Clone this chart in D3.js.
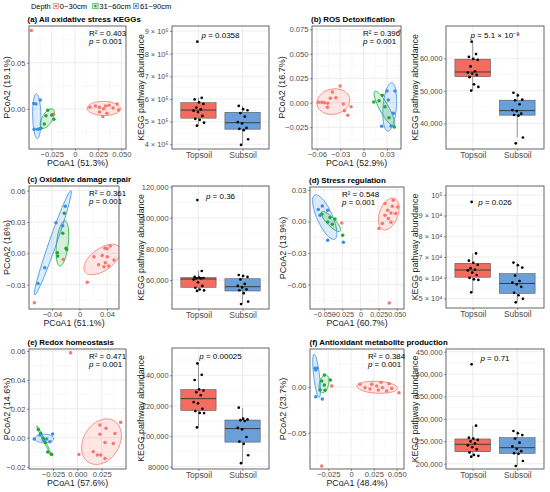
<!DOCTYPE html>
<html>
<head>
<meta charset="utf-8">
<script src="https://cdn.jsdelivr.net/npm/d3@7"></script>
<style>
  body { margin: 0; background: #fff; }
</style>
</head>
<body>
<script>
// ---- data ----
const depths = ["0~30cm", "31~60cm", "61~90cm"];
const soilGroups = ["Topsoil", "Subsoil"];
const titles = ["(a) All oxidative stress KEGGs", "(b) ROS Detoxification", "(c) Oxidative damage repair",
                "(d) Stress regulation", "(e) Redox homeostasis", "(f) Antioxidant metabolite production"];
const r2Values = ["0.403", "0.396", "0.361", "0.548", "0.471", "0.384"];
const permanovaP = ["0.001", "0.001", "0.001", "0.001", "0.001", "0.001"];
const wilcoxP = ["0.0358", "5.1 × 10⁻⁸", "0.36", "0.026", "0.00025", "0.71"];
const pcoa1Pct = ["51.3%", "52.9%", "51.1%", "60.7%", "57.6%", "48.4%"];
const pcoa2Pct = ["19.1%", "16.7%", "16%", "13.9%", "14.6%", "23.7%"];

// PCoA scores per depth
const pcoa_a_0_30 = [[-0.047,0.085],[0.0162,0.0018],[0.022,0.0033],[0.0264,0.0018],[0.0308,0.0003],[0.033,0.0033],[0.0367,0.004],[0.041,0.001],[0.0455,0.0054],[0.047,-0.0011],[0.0344,-0.0047],[0.030,-0.0083],[0.0264,-0.0033],[-0.0231,-0.0058]];
const pcoa_a_31_60 = [[-0.0293,-0.0014],[-0.0312,-0.0073],[-0.0227,-0.0112],[-0.033,-0.0163],[-0.0367,-0.021],[-0.025,-0.0065]];
const pcoa_a_61_90 = [[-0.0444,0.0058],[-0.0374,0.0098],[-0.0403,-0.0221],[-0.044,-0.022],[-0.0377,-0.0214],[-0.042,0.0054]];

const pcoa_b_0_30 = [[-0.0301,0.0171],[-0.04,0.0109],[-0.0536,0.0004],[-0.0503,0],[-0.0459,-0.0006],[-0.0426,0.0045],[-0.0356,0.0051],[-0.0464,-0.0047],[-0.0259,-0.0013],[-0.0246,-0.0082],[-0.016,-0.0041],[-0.0203,-0.0129],[-0.058,0.0004],[0.047,0.0733]];
const pcoa_b_31_60 = [[0.0131,0.0007],[0.0241,0.0076],[0.0276,-0.0041],[0.0327,-0.0153],[0.0395,-0.0248],[0.0199,0.002]];
const pcoa_b_61_90 = [[0.0301,0.012],[0.0404,0.012],[0.0233,-0.0241],[0.0353,-0.0238],[0.0382,-0.0108],[0.0318,0.0028]];

const pcoa_c_0_30 = [[-0.0657,-0.0473],[0.0113,-0.0278],[0.0211,-0.0033],[0.0371,0.0048],[0.0404,0.0044],[0.0448,0.007],[0.0279,-0.0109],[0.0356,-0.0128],[0.0375,-0.009],[0.0425,-0.0122],[0.0502,-0.0064],[0.0404,-0.0033],[0.033,-0.002],[-0.0236,-0.0058]];
const pcoa_c_31_60 = [[-0.0221,0.0383],[-0.0244,0.0192],[-0.0196,0.0048],[-0.0323,0.0006],[-0.0317,-0.0026],[-0.0186,0.0038]];
const pcoa_c_61_90 = [[-0.0206,0.045],[-0.0342,0.0294],[-0.0244,0.0265],[-0.0506,-0.0138],[-0.0604,-0.0288]];

const pcoa_d_0_30 = [[0.0396,-0.0773],[-0.0258,-0.0013],[0.0451,0.0202],[0.0337,0.0171],[0.0437,0.0145],[0.0511,0.0139],[0.0374,0.0107],[0.0419,0.0082],[0.0337,0.006],[0.0484,0.0076],[0.0382,0.0028],[0.0419,-0.0007],[0.03,-0.0019],[0.0254,-0.0066]];
const pcoa_d_31_60 = [[-0.0533,0.0069],[-0.0419,0.0038],[-0.035,0.0025],[-0.045,-0.0004],[-0.0387,-0.0026],[-0.0245,-0.013]];
const pcoa_d_61_90 = [[-0.058,0.0114],[-0.0525,0.0148],[-0.045,0.0107],[-0.045,-0.0178],[-0.0236,-0.0197],[-0.0556,0.006]];

const pcoa_e_0_30 = [[-0.0069,0.0588],[-0.0273,-0.0108],[0.0231,0.0088],[0.0293,0.0065],[0.0443,0.0107],[0.0231,0.0024],[0.0385,0.003],[0.0283,-0.0032],[0.0368,-0.0039],[0.0163,-0.0097],[0.0204,-0.012],[0.0239,-0.012],[0.0283,-0.0143],[0.0016,-0.0115]];
const pcoa_e_31_60 = [[-0.04,0.0058],[-0.0376,0.003],[-0.0349,-0.0004],[-0.0329,-0.0032],[-0.0304,-0.0099],[-0.0263,-0.0115]];
const pcoa_e_61_90 = [[-0.0441,-0.0009],[-0.0383,0.0019],[-0.0253,0.0026],[-0.0314,-0.0009],[-0.0281,-0.0028],[-0.0349,-0.0016]];

const pcoa_f_0_30 = [[-0.0321,-0.0864],[-0.0211,0.0011],[0.0098,0.003],[0.0153,-0.0007],[0.0208,-0.0022],[0.0226,0.003],[0.0281,0.0011],[0.0328,0.0051],[0.0343,-0.0007],[0.039,-0.0044],[0.0416,0.0036],[0.0445,-0.0015],[0.0525,-0.0062],[0.0299,-0.0033]];
const pcoa_f_31_60 = [[-0.0292,0.0131],[-0.0321,0.0066],[-0.0226,0.0077],[-0.0292,0.0022],[-0.0284,-0.0036],[-0.0339,-0.0033]];
const pcoa_f_61_90 = [[-0.0394,0.0205],[-0.0375,0.0205],[-0.0386,-0.0106],[-0.0314,-0.0131],[-0.0386,0.0186]];

// KEGG pathway abundance per sample
const kegg_a_top = [482000,495000,508000,512000,525000,542000,548000,554000,562000,578000,585000,598000,605000,853000];
const kegg_a_sub = [397000,422000,462000,468000,472000,492000,498000,522000,538000,550000,555000,569000];
const kegg_b_top = [50100,51200,52000,54200,54900,55300,55600,56000,57500,59500,59800,60400,61300,65100];
const kegg_b_sub = [33900,35700,42400,42600,43000,43800,44100,45900,47100,47300,48600,49400];
const kegg_c_top = [53000,53300,53900,55000,56200,58500,60300,61000,61100,61300,61600,62000,65800,111400];
const kegg_c_sub = [44500,46100,51500,53400,54000,55200,56200,57500,60400,62000,62600,63200];
const kegg_d_top = [52900,58900,59200,59900,61300,62400,63500,63900,64600,66200,67200,68200,71700,96600];
const kegg_d_sub = [48100,49800,51500,52700,55600,56800,57600,58400,61000,64900,66000,67300];
const kegg_e_top = [105800,115200,115300,116500,118000,121600,122400,126900,128900,130000,130800,136900,140300,147800];
const kegg_e_sub = [82300,87500,95000,96500,99500,104500,105500,110000,110500,111000,111500,118700];
const kegg_f_top = [215600,217500,219500,225000,232000,237000,241000,245600,250000,253000,256000,258000,284800,421900];
const kegg_f_sub = [194900,206000,222000,223500,228000,233000,238500,247000,256000,264000,268000,273000];

// tick values and labels
const pcoaXTicks = [[-0.025,0,0.025,0.05],[-0.06,-0.03,0,0.03],[-0.04,0,0.04],[-0.05,-0.025,0,0.025,0.05],[-0.025,0,0.025],[-0.025,0,0.025,0.05]];
const pcoaXLabels = [["−0.025","0","0.025","0.050"],["−0.06","−0.03","0","0.03"],["−0.04","0","0.04"],["−0.050","−0.025","0","0.025","0.050"],["−0.025","0.000","0.025"],["−0.025","0","0.025","0.050"]];
const pcoaYTicks = [[0,0.05],[-0.025,0,0.025,0.05,0.075],[-0.03,0,0.03,0.06],[-0.06,-0.03,0,0.03],[-0.02,0,0.02,0.04,0.06],[-0.05,0]];
const pcoaYLabels = [["0.00","0.05"],["−0.025","0.000","0.025","0.050","0.075"],["−0.03","0.00","0.03","0.06"],["−0.06","−0.03","0.00","0.03"],["−0.02","0.00","0.02","0.04","0.06"],["−0.05","0.00"]];
const keggYTicks = [[4e5,5e5,6e5,7e5,8e5,9e5],[40000,50000,60000],[60000,80000,100000,120000],[50000,60000,70000,80000,90000,100000],[80000,100000,120000,140000],[200000,250000,300000,350000,400000,450000]];
const keggYLabels = [["4 × 10⁵","5 × 10⁵","6 × 10⁵","7 × 10⁵","8 × 10⁵","9 × 10⁵"],["40,000","50,000","60,000"],["60,000","80,000","100,000","120,000"],["5 × 10⁴","6 × 10⁴","7 × 10⁴","8 × 10⁴","9 × 10⁴","10⁵"],["80000","100,000","120,000","140,000"],["200,000","250,000","300,000","350,000","400,000","450,000"]];

const pcoaGroups = [
  [pcoa_a_0_30, pcoa_a_31_60, pcoa_a_61_90],
  [pcoa_b_0_30, pcoa_b_31_60, pcoa_b_61_90],
  [pcoa_c_0_30, pcoa_c_31_60, pcoa_c_61_90],
  [pcoa_d_0_30, pcoa_d_31_60, pcoa_d_61_90],
  [pcoa_e_0_30, pcoa_e_31_60, pcoa_e_61_90],
  [pcoa_f_0_30, pcoa_f_31_60, pcoa_f_61_90]
];
const keggGroups = [
  [kegg_a_top, kegg_a_sub], [kegg_b_top, kegg_b_sub], [kegg_c_top, kegg_c_sub],
  [kegg_d_top, kegg_d_sub], [kegg_e_top, kegg_e_sub], [kegg_f_top, kegg_f_sub]
];

// ---- layout (pixels) ----
const layout = [
  {pcX:[29,126], pcY:[26,149], pcXd:[-0.0495,0.055], pcYd:[-0.0435,0.090], bxX:[172,269], bxY:[26,149], bxYd:[379000,922000], r2X:89, pDy:12, ytX:7, titleX:27.5},
  {pcX:[312,401], pcY:[26,149], pcXd:[-0.0662,0.0481], pcYd:[-0.0473,0.0784], bxX:[446,544], bxY:[26,149], bxYd:[32170,69900], r2X:363, pDy:12, ytX:282, titleX:311},
  {pcX:[29,119], pcY:[186,309], pcXd:[-0.0735,0.0575], pcYd:[-0.0533,0.0645], bxX:[172,269], bxY:[186,309], bxYd:[41350,120450], r2X:89, pDy:13.5, ytX:7, titleX:27.5},
  {pcX:[310,404], pcY:[187,309], pcXd:[-0.0694,0.0598], pcYd:[-0.0831,0.0328], bxX:[446,544], bxY:[186,308], bxYd:[45350,104300], r2X:342, pDy:19, ytX:283, titleX:309},
  {pcX:[29,126], pcY:[349,469], pcXd:[-0.0495,0.0498], pcYd:[-0.0216,0.0614], bxX:[172,269], bxY:[348,469], bxYd:[78480,157900], r2X:89, pDy:11, ytX:7, titleX:27.5},
  {pcX:[310,404], pcY:[349,469], pcXd:[-0.0449,0.058], pcYd:[-0.0897,0.0416], bxX:[446,544], bxY:[349,469], bxYd:[188200,456000], r2X:368, pDy:12, ytX:283, titleX:309.5}
];

const FONT = '"Liberation Sans", Arial, Helvetica, sans-serif';
const depthColors = ["#F8766D", "#1DAA36", "#3A8EE6"];
const soilFill = ["#F46C5F", "#6A9FD9"];
const gridMajor = "#E8E8E8", gridMinor = "#F3F3F3", borderCol = "#555";

const svg = d3.select("body").append("svg")
    .attr("width", 550).attr("height", 492)
    .style("font-family", FONT);

// robust t covariance (like MASS::cov.trob), used by stat_ellipse
function covTrob(pts) {
  const n = pts.length, nu = 5, p = 2;
  let w = pts.map(() => 1);
  let loc = [d3.mean(pts, d => d[0]), d3.mean(pts, d => d[1])];
  let X = [];
  for (let it = 0; it < 25; it++) {
    const w0 = w.slice();
    X = pts.map(d => [d[0] - loc[0], d[1] - loc[1]]);
    const sw = d3.sum(w);
    let a = 0, b = 0, c = 0;
    X.forEach((d, i) => { a += w[i]*d[0]*d[0]; b += w[i]*d[0]*d[1]; c += w[i]*d[1]*d[1]; });
    a /= sw; b /= sw; c /= sw;
    const det = a*c - b*b;
    const Q = X.map(d => (c*d[0]*d[0] - 2*b*d[0]*d[1] + a*d[1]*d[1]) / det);
    w = Q.map(q => (nu + p) / (nu + q));
    const sw2 = d3.sum(w);
    loc = [d3.sum(pts, (d, i) => w[i]*d[0]) / sw2, d3.sum(pts, (d, i) => w[i]*d[1]) / sw2];
    if (w.every((v, i) => Math.abs(v - w0[i]) < 0.01)) break;
  }
  let a = 0, b = 0, c = 0;
  X.forEach((d, i) => { a += w[i]*d[0]*d[0]; b += w[i]*d[0]*d[1]; c += w[i]*d[1]*d[1]; });
  return {center: loc, cov: [a/n, b/n, c/n]};
}

function ellipsePts(pts, level) {
  const e = covTrob(pts);
  const [a, b, c] = e.cov;
  const dfd = pts.length - 1;
  const fq = dfd / 2 * (Math.pow(1 - level, -2 / dfd) - 1);   // qf(level, 2, dfd)
  const r = Math.sqrt(2 * fq);
  const r11 = Math.sqrt(a), r12 = b / r11, r22 = Math.sqrt(Math.max(c - r12*r12, 0));
  return d3.range(0, 61).map(k => {
    const t = k / 60 * 2 * Math.PI;
    return [e.center[0] + r*Math.cos(t)*r11, e.center[1] + r*(Math.cos(t)*r12 + Math.sin(t)*r22)];
  });
}

function minorTicks(ticks, dom) {
  const step = ticks[1] - ticks[0];
  const out = [];
  for (let v = ticks[0] - step/2; v <= dom[1] + 1e-12; v += step) if (v >= dom[0]) out.push(v);
  return out;
}

function styleAxis(ax, size) {
  ax.attr("font-family", FONT).attr("font-size", size);
  ax.select(".domain").remove();
  ax.selectAll(".tick line").attr("stroke", "#333").attr("stroke-width", 0.5);
  ax.selectAll(".tick text").attr("fill", "#4d4d4d");
}

function italicP(sel, rest) {
  sel.append("tspan").attr("font-style", "italic").text("p");
  sel.append("tspan").text(" = " + rest);
}

function drawPcoa(k) {
  const L = layout[k];
  const x = d3.scaleLinear().domain(L.pcXd).range(L.pcX);
  const y = d3.scaleLinear().domain(L.pcYd).range([L.pcY[1], L.pcY[0]]);
  const g = svg.append("g");
  const [x0, x1] = L.pcX, [y0, y1] = L.pcY;

  g.append("clipPath").attr("id", "pc" + k).append("rect")
    .attr("x", x0).attr("y", y0).attr("width", x1 - x0).attr("height", y1 - y0);

  const grid = g.append("g");
  grid.selectAll(".mx").data(minorTicks(pcoaXTicks[k], L.pcXd)).join("line")
    .attr("x1", d => x(d)).attr("x2", d => x(d)).attr("y1", y0).attr("y2", y1)
    .attr("stroke", gridMinor).attr("stroke-width", 0.5);
  grid.selectAll(".my").data(minorTicks(pcoaYTicks[k], L.pcYd)).join("line")
    .attr("y1", d => y(d)).attr("y2", d => y(d)).attr("x1", x0).attr("x2", x1)
    .attr("stroke", gridMinor).attr("stroke-width", 0.5);
  grid.selectAll(".gx").data(pcoaXTicks[k]).join("line")
    .attr("x1", d => x(d)).attr("x2", d => x(d)).attr("y1", y0).attr("y2", y1)
    .attr("stroke", gridMajor).attr("stroke-width", 0.8);
  grid.selectAll(".gy").data(pcoaYTicks[k]).join("line")
    .attr("y1", d => y(d)).attr("y2", d => y(d)).attr("x1", x0).attr("x2", x1)
    .attr("stroke", gridMajor).attr("stroke-width", 0.8);

  const plot = g.append("g").attr("clip-path", "url(#pc" + k + ")");
  const line = d3.line().x(d => x(d[0])).y(d => y(d[1]));
  pcoaGroups[k].forEach((pts, gi) => {
    plot.append("path").attr("d", line(ellipsePts(pts, 0.68)) + "Z")
      .attr("fill", depthColors[gi]).attr("fill-opacity", 0.18)
      .attr("stroke", depthColors[gi]).attr("stroke-width", 0.8);
  });
  pcoaGroups[k].forEach((pts, gi) => {
    plot.selectAll(null).data(pts).join("circle")
      .attr("cx", d => x(d[0])).attr("cy", d => y(d[1])).attr("r", 1.75)
      .attr("fill", depthColors[gi]);
  });

  g.append("rect").attr("x", x0).attr("y", y0).attr("width", x1 - x0).attr("height", y1 - y0)
    .attr("fill", "none").attr("stroke", borderCol).attr("stroke-width", 0.9);

  const ax = g.append("g").attr("transform", `translate(0,${y1})`)
    .call(d3.axisBottom(x).tickValues(pcoaXTicks[k]).tickSize(2).tickPadding(0.4)
      .tickFormat((d, i) => pcoaXLabels[k][i]));
  styleAxis(ax, k === 3 ? 7.2 : 7.6);
  const ay = g.append("g").attr("transform", `translate(${x0},0)`)
    .call(d3.axisLeft(y).tickValues(pcoaYTicks[k]).tickSize(2).tickPadding(1.5)
      .tickFormat((d, i) => pcoaYLabels[k][i]));
  styleAxis(ay, 7.6);

  g.append("text").attr("x", (x0 + x1) / 2).attr("y", y1 + (k >= 4 ? 13.6 : 14.2)).attr("dy", "0.35em")
    .attr("text-anchor", "middle").attr("font-size", 8.8).attr("fill", "#1a1a1a")
    .text("PCoA1 (" + pcoa1Pct[k] + ")");
  g.append("text").attr("transform", `translate(${L.ytX},${(y0 + y1) / 2}) rotate(-90)`).attr("dy", "0.35em")
    .attr("text-anchor", "middle").attr("font-size", 9).attr("fill", "#1a1a1a")
    .text("PCoA2 (" + pcoa2Pct[k] + ")");

  g.append("text").attr("x", L.r2X).attr("y", y0 + 7).attr("dy", "0.35em")
    .attr("font-size", 7.9).text("R² = " + r2Values[k]);
  italicP(g.append("text").attr("x", L.r2X).attr("y", y0 + 15.2).attr("dy", "0.35em")
    .attr("font-size", 7.9), permanovaP[k]);

  g.append("text").attr("x", L.titleX).attr("y", y0 - 6.5).attr("dy", "0.35em")
    .attr("font-size", 7.9).attr("font-weight", "bold").text(titles[k]);
}

function drawBox(k) {
  const L = layout[k];
  const x = d3.scaleLinear().domain([0.4, 2.6]).range(L.bxX);
  const y = d3.scaleLinear().domain(L.bxYd).range([L.bxY[1], L.bxY[0]]);
  const g = svg.append("g");
  const [x0, x1] = L.bxX, [y0, y1] = L.bxY;

  const grid = g.append("g");
  grid.selectAll(".my").data(minorTicks(keggYTicks[k], L.bxYd)).join("line")
    .attr("y1", d => y(d)).attr("y2", d => y(d)).attr("x1", x0).attr("x2", x1)
    .attr("stroke", gridMinor).attr("stroke-width", 0.5);
  grid.selectAll(".gy").data(keggYTicks[k]).join("line")
    .attr("y1", d => y(d)).attr("y2", d => y(d)).attr("x1", x0).attr("x2", x1)
    .attr("stroke", gridMajor).attr("stroke-width", 0.8);
  grid.selectAll(".gx").data([1, 2]).join("line")
    .attr("x1", d => x(d)).attr("x2", d => x(d)).attr("y1", y0).attr("y2", y1)
    .attr("stroke", gridMajor).attr("stroke-width", 0.8);

  const bw = 0.8;
  keggGroups[k].forEach((vals, gi) => {
    const s = vals.slice().sort(d3.ascending);
    const q1 = d3.quantile(s, 0.25), med = d3.quantile(s, 0.5), q3 = d3.quantile(s, 0.75);
    const iqr = q3 - q1;
    const lo = d3.min(s.filter(v => v >= q1 - 1.5 * iqr));
    const hi = d3.max(s.filter(v => v <= q3 + 1.5 * iqr));
    const cx = gi + 1;
    g.append("line").attr("x1", x(cx)).attr("x2", x(cx)).attr("y1", y(q3)).attr("y2", y(hi))
      .attr("stroke", "#555").attr("stroke-width", 0.6);
    g.append("line").attr("x1", x(cx)).attr("x2", x(cx)).attr("y1", y(q1)).attr("y2", y(lo))
      .attr("stroke", "#555").attr("stroke-width", 0.6);
    g.append("rect").attr("x", x(cx - bw/2)).attr("width", x(cx + bw/2) - x(cx - bw/2))
      .attr("y", y(q3)).attr("height", y(q1) - y(q3))
      .attr("fill", soilFill[gi]).attr("stroke", "#444").attr("stroke-width", 0.5);
    g.append("line").attr("x1", x(cx - bw/2)).attr("x2", x(cx + bw/2)).attr("y1", y(med)).attr("y2", y(med))
      .attr("stroke", "#333").attr("stroke-width", 0.9);
    // deterministic jitter offsets
    g.selectAll(null).data(vals).join("circle")
      .attr("cx", (d, i) => x(cx + (((i * 0.618034 + 0.37) % 1) - 0.5) * 0.26))
      .attr("cy", d => y(d)).attr("r", 1.35).attr("fill", "#000");
  });

  g.append("rect").attr("x", x0).attr("y", y0).attr("width", x1 - x0).attr("height", y1 - y0)
    .attr("fill", "none").attr("stroke", borderCol).attr("stroke-width", 0.9);

  const ax = g.append("g").attr("transform", `translate(0,${y1})`)
    .call(d3.axisBottom(x).tickValues([1, 2]).tickSize(2).tickPadding(0.6)
      .tickFormat(d => soilGroups[d - 1]));
  styleAxis(ax, 8.4);
  const ay = g.append("g").attr("transform", `translate(${x0},0)`)
    .call(d3.axisLeft(y).tickValues(keggYTicks[k]).tickSize(2).tickPadding(1.5)
      .tickFormat((d, i) => keggYLabels[k][i]));
  styleAxis(ay, 7.4);

  g.append("text").attr("transform", `translate(${x0 - 31},${(y0 + y1) / 2}) rotate(-90)`).attr("dy", "0.35em")
    .attr("text-anchor", "middle").attr("font-size", 8.8).attr("fill", "#1a1a1a")
    .text("KEGG pathway abundance");

  italicP(g.append("text").attr("x", x(1.5)).attr("y", y0 + L.pDy - 3).attr("dy", "0.35em")
    .attr("text-anchor", "middle").attr("font-size", 8), wilcoxP[k]);
}

for (let k = 0; k < 6; k++) { drawPcoa(k); drawBox(k); }

// legend
const leg = svg.append("g");
leg.append("text").attr("x", 31).attr("y", 6).attr("dy", "0.35em").attr("font-size", 7.4).text("Depth");
const keyX = [53.2, 92.7, 133.3];
depths.forEach((d, i) => {
  leg.append("rect").attr("x", keyX[i]).attr("y", 3.3).attr("width", 5.4).attr("height", 5.4)
    .attr("fill", depthColors[i]).attr("fill-opacity", 0.2).attr("stroke", depthColors[i]).attr("stroke-width", 0.6);
  leg.append("circle").attr("cx", keyX[i] + 2.7).attr("cy", 6).attr("r", 1.3).attr("fill", depthColors[i]);
  leg.append("text").attr("x", keyX[i] + 6.6).attr("y", 6).attr("dy", "0.35em").attr("font-size", 7.6).text(d);
});
</script>
</body>
</html>
